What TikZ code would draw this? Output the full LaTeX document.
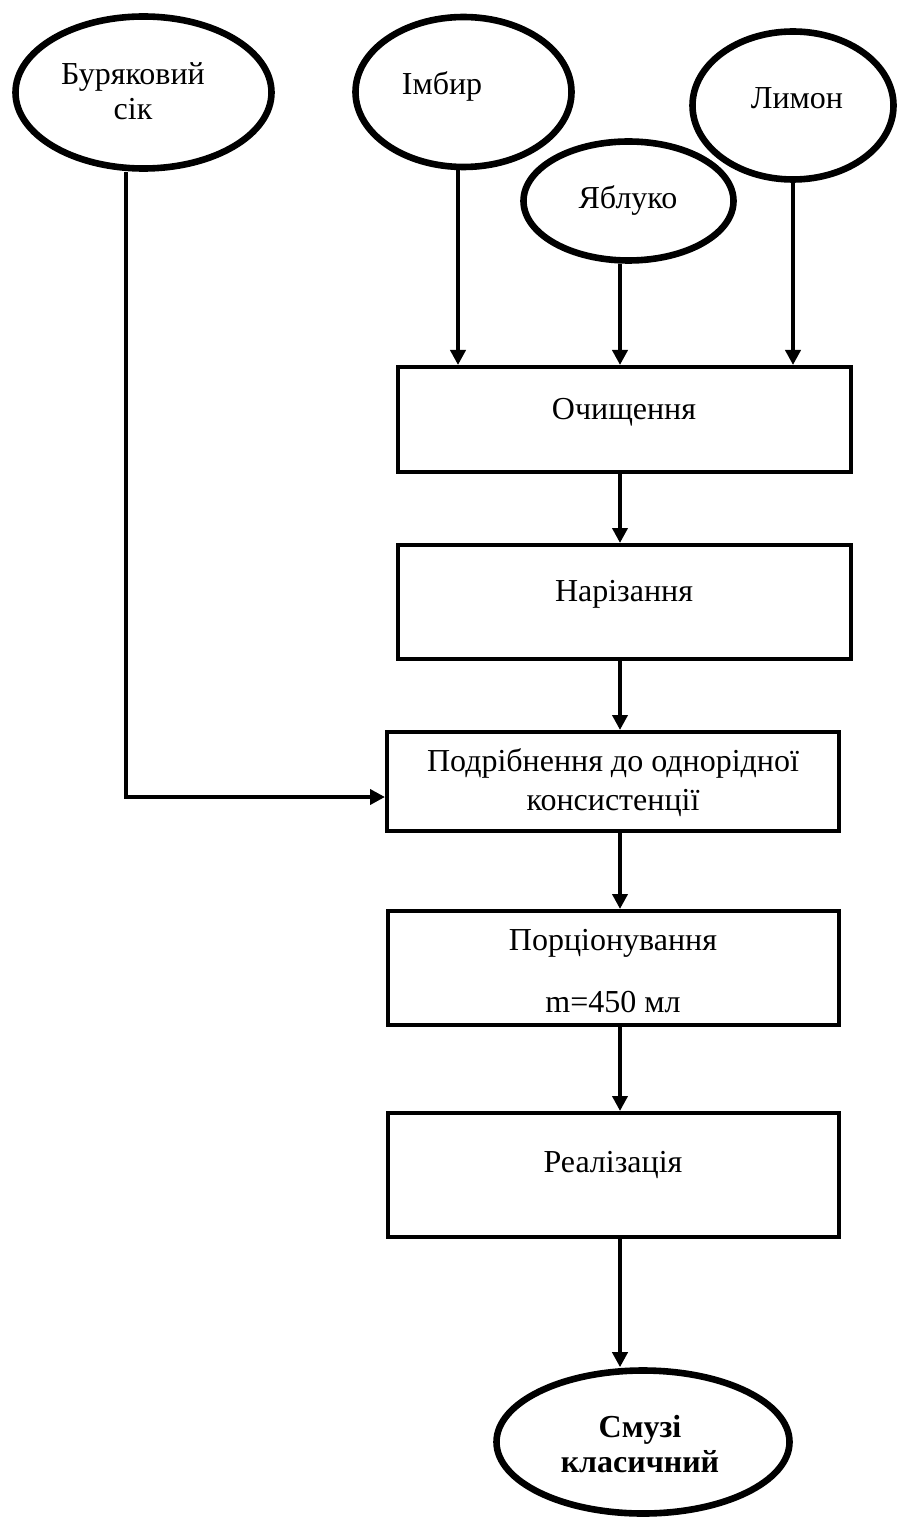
\documentclass[tikz,border=0pt]{standalone}
\usepackage{fontspec}
\setmainfont{Liberation Serif}
\usetikzlibrary{shapes.geometric,arrows.meta}

\begin{document}
\begin{tikzpicture}[x=0.5pt,y=-0.5pt,
    oval/.style={shape=ellipse,draw=black,line width=3.3pt,inner sep=0pt},
    stage/.style={shape=rectangle,draw=black,line width=2pt,inner sep=0pt},
    txt/.style={align=center,inner sep=0pt,font=\fontsize{16}{17.5}\selectfont},
    arr/.style={line width=2pt,-{Triangle[length=7.5pt,width=7.5pt]}}]
        \useasboundingbox (0,0) rectangle (897,1519);

        % sources
        \node[oval,minimum width=128pt,minimum height=76pt] (beet) at (143.5,92.5) {};
        \node[oval,minimum width=108pt,minimum height=75pt] (imbir) at (463.5,92) {};
        \node[oval,minimum width=105pt,minimum height=59.5pt] (yabl) at (628.5,201) {};
        \node[oval,minimum width=100.5pt,minimum height=74pt] (lymon) at (793,105.5) {};

        \node[txt] (beet-t) at (133,91) {Буряковий\\сік};
        \node[txt] (imbir-t) at (442,86) {Імбир};
        \node[txt] (yabl-t) at (628,201) {Яблуко};
        \node[txt] (lymon-t) at (797,98) {Лимон};

        % stages
        \node[stage,minimum width=226.5pt,minimum height=52.5pt] (ochysch) at (624.5,419.5) {};
        \node[stage,minimum width=226.5pt,minimum height=57pt] (nariz) at (624.5,602) {};
        \node[stage,minimum width=226pt,minimum height=49.5pt] (podrib) at (613,781.5) {};
        \node[stage,minimum width=225.5pt,minimum height=57pt] (porc) at (613.5,968) {};
        \node[stage,minimum width=225.5pt,minimum height=62pt] (real) at (613.5,1175) {};

        \node[txt] (ochysch-t) at (624,412) {Очищення};
        \node[txt] (nariz-t) at (624,594) {Нарізання};
        \node[txt,font=\fontsize{16}{19.5}\selectfont] (podrib-t) at (613,783) {Подрібнення до однорідної\\консистенції};
        \node[txt] (porc-t) at (613,971) {Порціонування\\[13.5pt]m=450 мл};
        \node[txt] (real-t) at (613,1165) {Реалізація};

        % result
        \node[oval,minimum width=146.5pt,minimum height=71.5pt] (smoothie) at (643,1442) {};
        \node[txt,font=\fontsize{16}{17.5}\selectfont\bfseries] (smoothie-t) at (640,1444) {Смузі\\класичний};

        \coordinate (col0) at (126,797);
        \coordinate (col1) at (458,0);
        \coordinate (col2) at (620,0);
        \coordinate (col3) at (793,0);

        \draw[arr] (imbir.south -| col1) -- (ochysch.north -| col1);
        \draw[arr] (yabl.south -| col2) -- (ochysch.north -| col2);
        \draw[arr] (lymon.south -| col3) -- (ochysch.north -| col3);

        \draw[arr] (ochysch.south -| col2) -- (nariz.north -| col2);
        \draw[arr] (nariz.south -| col2) -- (podrib.north -| col2);
        \draw[arr] (beet.south -| col0) -- (col0) -- (podrib.west |- col0);
        \draw[arr] (podrib.south -| col2) -- (porc.north -| col2);
        \draw[arr] (porc.south -| col2) -- (real.north -| col2);
        \draw[arr] (real.south -| col2) -- (smoothie.north -| col2);
    \end{tikzpicture}
\end{document}
